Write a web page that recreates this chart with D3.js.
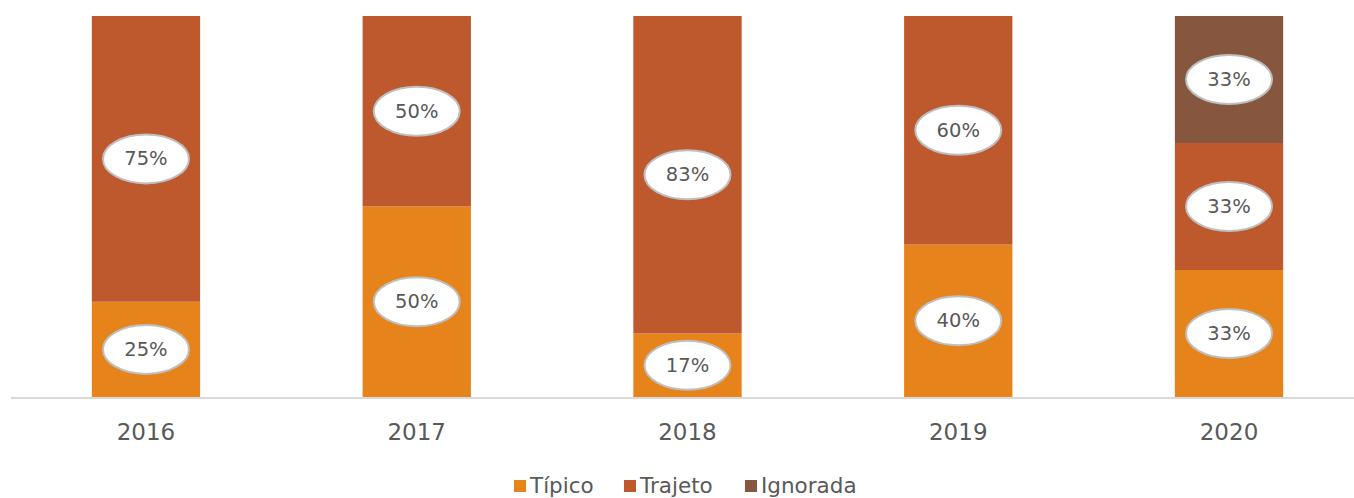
<!doctype html>
<html>
<head>
<script src="https://d3js.org/d3.v7.min.js"></script>
<style>
body { margin: 0; background: #fff; }
text { font-family: "Century Gothic", "DejaVu Sans", sans-serif; fill: #595959; }
</style>
</head>
<body>
<svg width="1354" height="498"></svg>
<script>
// counts per year (percent labels come from the share of each year)
var years = ["2016", "2017", "2018", "2019", "2020"];
var tipico = [1, 2, 1, 2, 1];
var trajeto = [3, 2, 5, 3, 1];
var ignorada = [0, 0, 0, 0, 1];
var seriesNames = ["Típico", "Trajeto", "Ignorada"];
var colors = ["#E6831A", "#BE582D", "#87563F"];

var rows = years.map(function (y, i) {
  return { year: y, "Típico": tipico[i], "Trajeto": trajeto[i], "Ignorada": ignorada[i] };
});

var svg = d3.select("svg");
var plotTop = 16, plotBottom = 397;

var x = d3.scaleBand().domain(years).range([10.6, 1364.4])
  .paddingInner(0.6).paddingOuter(0.3);
var y = d3.scaleLinear().domain([0, 1]).range([plotBottom, plotTop]);

var stack = d3.stack().keys(seriesNames).offset(d3.stackOffsetExpand);
var layers = stack(rows);

var g = svg.append("g");
layers.forEach(function (layer, k) {
  g.selectAll(".bar" + k)
    .data(layer.filter(function (d) { return d[1] - d[0] > 0; }))
    .enter().append("rect")
    .attr("x", function (d) { return x(d.data.year); })
    .attr("width", x.bandwidth())
    .attr("y", function (d) { return y(d[1]); })
    .attr("height", function (d) { return y(d[0]) - y(d[1]); })
    .attr("fill", colors[k]);
});

// axis line
svg.append("line")
  .attr("x1", 11).attr("x2", 1354)
  .attr("y1", plotBottom + 1).attr("y2", plotBottom + 1)
  .attr("stroke", "#d9d9d9").attr("stroke-width", 2);

// labels
layers.forEach(function (layer, k) {
  layer.forEach(function (d) {
    var share = d[1] - d[0];
    if (share <= 0) return;
    var cx = x(d.data.year) + x.bandwidth() / 2;
    var cy = (y(d[0]) + y(d[1])) / 2;
    g.append("ellipse")
      .attr("cx", cx).attr("cy", cy)
      .attr("rx", 43).attr("ry", 24.5)
      .attr("fill", "#fff")
      .attr("stroke", "#bfbfbf").attr("stroke-width", 2);
    g.append("text")
      .attr("x", cx).attr("y", cy + 1)
      .attr("text-anchor", "middle")
      .attr("dominant-baseline", "middle")
      .style("font-size", "19.5px")
      .text(Math.round(share * 100) + "%");
  });
});

// year labels
svg.selectAll(".yr").data(years).enter().append("text")
  .attr("x", function (d) { return x(d) + x.bandwidth() / 2; })
  .attr("y", 433)
  .attr("text-anchor", "middle")
  .attr("dominant-baseline", "middle")
  .style("font-size", "23px")
  .text(function (d) { return d; });

// legend
var legX = [514, 624, 745];
var leg = svg.append("g");
seriesNames.forEach(function (name, k) {
  leg.append("rect")
    .attr("x", legX[k]).attr("y", 480)
    .attr("width", 12).attr("height", 12)
    .attr("fill", colors[k]);
  leg.append("text")
    .attr("x", legX[k] + 16).attr("y", 487)
    .attr("dominant-baseline", "middle")
    .style("font-size", "21.5px")
    .text(name);
});
</script>
</body>
</html>
